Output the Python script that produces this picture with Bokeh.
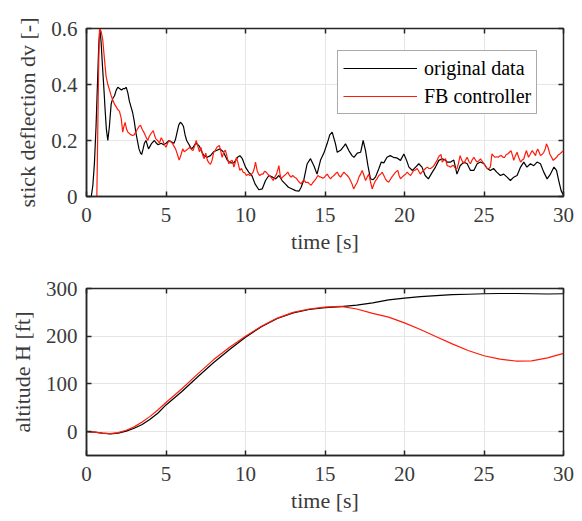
from bokeh.plotting import figure
from bokeh.models import Range1d, LinearAxis, FixedTicker, Legend, LegendItem, ColumnDataSource
from bokeh.layouts import column
from bokeh.embed import file_html
from bokeh.resources import INLINE

# ---------------- data: stick deflection ----------------
t_orig = [0, 0.3, 0.4, 0.5, 0.6, 0.7, 0.77, 0.84, 0.92, 1.0, 1.1, 1.17, 1.25, 1.34, 1.44, 1.55, 1.65, 1.76, 1.87, 1.97,
          2.1, 2.2, 2.3, 2.4, 2.5, 2.6, 2.7, 2.8, 2.9, 3.0, 3.1, 3.2, 3.3, 3.4, 3.47, 3.56, 3.64, 3.74, 3.82, 3.9,
          4.0, 4.1, 4.27, 4.4, 4.5, 4.7, 4.85, 5.0, 5.2, 5.35, 5.5, 5.6, 5.7, 5.8, 5.9, 6.0, 6.1, 6.2, 6.3, 6.4,
          6.5, 6.6, 6.7, 6.8, 6.9, 7.0, 7.1, 7.2, 7.38, 7.59, 7.8, 8.0, 8.2, 8.4, 8.6, 8.85, 9.06, 9.27, 9.5, 9.65,
          9.8, 10.0, 10.2, 10.4, 10.6, 10.84, 11.05, 11.26, 11.47, 11.68, 11.9, 12.1, 12.3, 12.5, 12.7, 12.94, 13.15, 13.36, 13.5, 13.67,
          13.88, 14.09, 14.3, 14.5, 14.72, 14.93, 15.14, 15.3, 15.45, 15.55, 15.66, 15.77, 15.98, 16.19, 16.29, 16.5, 16.7, 16.82, 17.03, 17.24,
          17.4, 17.55, 17.7, 17.86, 18.03, 18.18, 18.39, 18.54, 18.7, 18.9, 19.1, 19.3, 19.5, 19.75, 19.96, 20.13, 20.28, 20.5, 20.7, 20.9,
          21.1, 21.3, 21.5, 21.75, 21.95, 22.16, 22.37, 22.58, 22.68, 22.9, 23.1, 23.3, 23.5, 23.73, 23.94, 24.15, 24.36, 24.57, 24.78, 25.0,
          25.2, 25.4, 25.6, 25.8, 26.03, 26.24, 26.45, 26.66, 26.87, 27.08, 27.3, 27.5, 27.7, 27.92, 28.13, 28.34, 28.55, 28.76, 28.97, 29.18,
          29.4, 29.56, 29.7, 29.85, 30.0]
dv_orig = [0, 0.0, 0.04, 0.12, 0.25, 0.42, 0.54, 0.6, 0.55, 0.47, 0.38, 0.31, 0.24, 0.2, 0.25, 0.33, 0.35, 0.36, 0.38, 0.39,
           0.385, 0.38, 0.385, 0.385, 0.39, 0.37, 0.34, 0.32, 0.3, 0.27, 0.23, 0.2, 0.17, 0.155, 0.15, 0.17, 0.19, 0.2, 0.185, 0.17,
           0.18, 0.19, 0.2, 0.19, 0.185, 0.19, 0.185, 0.19, 0.2, 0.195, 0.19, 0.205, 0.23, 0.255, 0.265, 0.26, 0.25, 0.22, 0.2, 0.19,
           0.18, 0.17, 0.175, 0.185, 0.19, 0.185, 0.18, 0.165, 0.146, 0.14, 0.146, 0.16, 0.165, 0.17, 0.16, 0.13, 0.12, 0.12, 0.14, 0.146,
           0.135, 0.105, 0.087, 0.075, 0.045, 0.024, 0.027, 0.057, 0.075, 0.07, 0.063, 0.075, 0.057, 0.045, 0.033, 0.027, 0.021, 0.019, 0.033, 0.06,
           0.117, 0.135, 0.11, 0.08, 0.13, 0.155, 0.19, 0.22, 0.23, 0.21, 0.188, 0.158, 0.165, 0.18, 0.188, 0.164, 0.146, 0.14, 0.155, 0.158,
           0.2, 0.164, 0.11, 0.063, 0.06, 0.07, 0.1, 0.123, 0.12, 0.14, 0.146, 0.14, 0.138, 0.129, 0.152, 0.129, 0.105, 0.093, 0.105, 0.117,
           0.105, 0.075, 0.063, 0.087, 0.105, 0.129, 0.135, 0.13, 0.123, 0.123, 0.13, 0.08, 0.11, 0.123, 0.117, 0.093, 0.093, 0.117, 0.123, 0.117,
           0.1, 0.093, 0.1, 0.087, 0.075, 0.08, 0.069, 0.057, 0.069, 0.075, 0.105, 0.123, 0.105, 0.117, 0.11, 0.123, 0.117, 0.087, 0.063, 0.08,
           0.105, 0.093, 0.057, 0.021, 0.004]

t_fb = [0, 0.65, 0.7, 0.76, 0.82, 0.92, 1.02, 1.13, 1.23, 1.34, 1.45, 1.55, 1.65, 1.76, 1.87, 1.97, 2.07, 2.18, 2.28, 2.35,
        2.43, 2.52, 2.6, 2.7, 2.8, 2.9, 3.0, 3.1, 3.2, 3.3, 3.4, 3.5, 3.6, 3.72, 3.85, 3.95, 4.06, 4.2, 4.3, 4.37,
        4.48, 4.58, 4.7, 4.8, 4.9, 5.0, 5.1, 5.2, 5.3, 5.4, 5.5, 5.6, 5.72, 5.83, 5.95, 6.05, 6.15, 6.25, 6.38, 6.5,
        6.6, 6.7, 6.8, 6.9, 7.0, 7.1, 7.2, 7.3, 7.4, 7.5, 7.6, 7.7, 7.8, 7.9, 8.0, 8.1, 8.2, 8.36, 8.45, 8.53,
        8.64, 8.74, 8.85, 8.95, 9.05, 9.16, 9.27, 9.35, 9.43, 9.53, 9.64, 9.75, 9.85, 9.95, 10.06, 10.17, 10.27, 10.38, 10.48, 10.55,
        10.63, 10.73, 10.82, 10.9, 11.0, 11.1, 11.2, 11.3, 11.4, 11.5, 11.62, 11.74, 11.85, 11.95, 12.03, 12.1, 12.17, 12.24, 12.35, 12.45,
        12.55, 12.66, 12.77, 12.87, 12.97, 13.08, 13.2, 13.3, 13.4, 13.5, 13.6, 13.7, 13.8, 13.92, 14.02, 14.13, 14.24, 14.34, 14.45, 14.55,
        14.66, 14.76, 14.87, 14.97, 15.05, 15.14, 15.25, 15.35, 15.45, 15.56, 15.67, 15.77, 15.88, 15.98, 16.08, 16.19, 16.3, 16.4, 16.5, 16.6,
        16.7, 16.8, 16.92, 17.03, 17.14, 17.24, 17.34, 17.45, 17.55, 17.66, 17.76, 17.87, 17.97, 18.08, 18.18, 18.29, 18.39, 18.5, 18.6, 18.7,
        18.8, 18.9, 19.0, 19.1, 19.2, 19.32, 19.44, 19.58, 19.66, 19.75, 19.86, 19.96, 20.07, 20.17, 20.28, 20.38, 20.49, 20.59, 20.7, 20.8,
        20.9, 21.0, 21.1, 21.2, 21.32, 21.43, 21.54, 21.64, 21.75, 21.85, 21.95, 22.05, 22.13, 22.2, 22.3, 22.37, 22.47, 22.58, 22.68, 22.8,
        22.9, 23.0, 23.1, 23.2, 23.3, 23.4, 23.5, 23.6, 23.73, 23.84, 23.94, 24.05, 24.15, 24.25, 24.36, 24.47, 24.57, 24.68, 24.78, 24.9,
        25.0, 25.1, 25.2, 25.3, 25.4, 25.5, 25.6, 25.7, 25.8, 25.9, 26.0, 26.1, 26.2, 26.3, 26.4, 26.5, 26.6, 26.7, 26.8, 26.87,
        26.97, 27.08, 27.18, 27.3, 27.4, 27.5, 27.58, 27.67, 27.8, 27.9, 28.03, 28.14, 28.24, 28.3, 28.38, 28.47, 28.55, 28.65, 28.76, 28.85,
        28.93, 29.03, 29.14, 29.25, 29.35, 29.46, 29.56, 29.66, 29.77, 29.88, 30.0]
dv_fb = [0, 0, 0.2, 0.45, 0.6, 0.59, 0.56, 0.49, 0.43, 0.4, 0.38, 0.36, 0.345, 0.33, 0.32, 0.31, 0.305, 0.28, 0.23, 0.25,
         0.265, 0.24, 0.23, 0.225, 0.22, 0.218, 0.22, 0.23, 0.24, 0.25, 0.255, 0.24, 0.23, 0.215, 0.2, 0.215, 0.225, 0.235, 0.215, 0.205,
         0.2, 0.19, 0.21, 0.2, 0.185, 0.176, 0.19, 0.2, 0.195, 0.19, 0.18, 0.17, 0.15, 0.13, 0.15, 0.17, 0.16, 0.164, 0.17, 0.176,
         0.168, 0.164, 0.18, 0.2, 0.18, 0.16, 0.175, 0.15, 0.135, 0.155, 0.13, 0.12, 0.115, 0.13, 0.158, 0.165, 0.176, 0.182, 0.16, 0.14,
         0.16, 0.165, 0.14, 0.117, 0.125, 0.13, 0.105, 0.12, 0.14, 0.12, 0.093, 0.1, 0.087, 0.085, 0.075, 0.08, 0.075, 0.08, 0.087, 0.1,
         0.123, 0.093, 0.08, 0.075, 0.08, 0.08, 0.09, 0.087, 0.08, 0.075, 0.068, 0.057, 0.07, 0.08, 0.095, 0.11, 0.08, 0.063, 0.07, 0.075,
         0.08, 0.087, 0.075, 0.069, 0.075, 0.069, 0.065, 0.057, 0.05, 0.045, 0.055, 0.057, 0.05, 0.051, 0.045, 0.04, 0.05, 0.057, 0.065, 0.075,
         0.07, 0.069, 0.065, 0.069, 0.075, 0.08, 0.07, 0.063, 0.07, 0.075, 0.082, 0.087, 0.075, 0.069, 0.078, 0.087, 0.08, 0.075, 0.068, 0.057,
         0.045, 0.027, 0.04, 0.051, 0.07, 0.08, 0.093, 0.075, 0.057, 0.07, 0.08, 0.05, 0.027, 0.045, 0.057, 0.065, 0.075, 0.08, 0.087, 0.075,
         0.063, 0.055, 0.051, 0.06, 0.069, 0.078, 0.087, 0.093, 0.075, 0.063, 0.07, 0.075, 0.08, 0.087, 0.08, 0.075, 0.085, 0.093, 0.095, 0.1,
         0.09, 0.08, 0.088, 0.093, 0.1, 0.105, 0.1, 0.1, 0.105, 0.11, 0.12, 0.129, 0.14, 0.146, 0.15, 0.123, 0.129, 0.135, 0.11, 0.108,
         0.105, 0.11, 0.11, 0.1, 0.099, 0.12, 0.146, 0.13, 0.117, 0.13, 0.14, 0.125, 0.117, 0.13, 0.14, 0.13, 0.123, 0.128, 0.134, 0.125,
         0.117, 0.108, 0.1, 0.1, 0.105, 0.152, 0.145, 0.14, 0.142, 0.14, 0.145, 0.146, 0.14, 0.14, 0.15, 0.152, 0.158, 0.164, 0.145, 0.129,
         0.145, 0.158, 0.14, 0.123, 0.13, 0.134, 0.15, 0.164, 0.14, 0.15, 0.164, 0.155, 0.146, 0.16, 0.17, 0.158, 0.146, 0.15, 0.158, 0.17,
         0.188, 0.175, 0.152, 0.14, 0.129, 0.135, 0.14, 0.148, 0.152, 0.158, 0.164]

# ---------------- data: altitude ----------------
t_alt = [0, 0.5, 1, 1.5, 2, 2.5, 3, 3.5, 4, 4.5, 5, 6, 7, 8, 9, 10, 11, 12, 13, 14, 15, 16, 17, 18, 19, 20,
         21, 22, 23, 24, 25, 26, 27, 28, 29, 30]
H_orig = [0, -1, -3, -4.5, -3, 1, 7, 15, 26, 39, 56, 84, 115, 145, 172, 198, 220, 237, 249, 256, 260, 262, 265, 270,
          276, 280, 283, 285, 287, 288, 289, 289.5, 289.5, 289, 288.5, 289]
H_fb = [0, -1, -3, -4, -2, 3, 10, 20, 32, 46, 61, 90, 121, 151, 177, 200, 221, 238, 250, 257, 261, 262.5, 257, 248,
        240, 228, 214, 199, 184, 170, 159, 152, 148, 148.5, 154.5, 164]

x_ticks = [0, 5, 10, 15, 20, 25, 30]
dv_ticks = [0, 0.2, 0.4, 0.6]
H_ticks = [0, 100, 200, 300]

FONT = "'Liberation Serif', 'Times New Roman', serif"
AX = "#262626"
TXT = "#3a3a3a"
GRID = "#e6e6e6"
RED = "#ff1a0a"


def style(p, yticks, ylabel):
    p.xaxis.ticker = FixedTicker(ticks=x_ticks)
    p.yaxis.ticker = FixedTicker(ticks=yticks)
    p.xgrid.ticker = FixedTicker(ticks=x_ticks)
    p.ygrid.ticker = FixedTicker(ticks=yticks)
    p.grid.grid_line_color = GRID
    p.grid.grid_line_width = 1
    p.outline_line_color = AX
    p.outline_line_width = 1.5
    p.outline_line_alpha = 1
    for ax in (p.xaxis[0], p.yaxis[0]):
        ax.major_tick_in = 5
        ax.major_tick_out = 0
        ax.minor_tick_line_color = None
        ax.axis_line_color = AX
        ax.axis_line_width = 1.5
        ax.major_tick_line_color = AX
        ax.major_tick_line_width = 1.5
        ax.major_label_text_font = FONT
        ax.major_label_text_font_size = "21px"
        ax.major_label_text_color = TXT
        ax.axis_label_text_font = FONT
        ax.axis_label_text_font_size = "22px"
        ax.axis_label_text_font_style = "normal"
        ax.axis_label_text_color = TXT
    p.xaxis.axis_label = "time [s]"
    p.yaxis.axis_label = ylabel
    p.xaxis.major_label_standoff = 11
    p.xaxis.axis_label_standoff = 4
    p.yaxis.major_label_standoff = 9
    p.yaxis.axis_label_standoff = 8
    # mirrored inward ticks on top and right (box on)
    top = LinearAxis(ticker=FixedTicker(ticks=x_ticks), major_tick_in=5, major_tick_out=0,
                     minor_tick_line_color=None, axis_line_color=None, major_tick_line_color=AX,
                     major_tick_line_width=1.5, major_label_text_font_size="0px", major_label_standoff=0,
                     major_label_overrides={v: "" for v in x_ticks})
    right = LinearAxis(ticker=FixedTicker(ticks=yticks), major_tick_in=5, major_tick_out=0,
                       minor_tick_line_color=None, axis_line_color=None, major_tick_line_color=AX,
                       major_tick_line_width=1.5, major_label_text_font_size="0px", major_label_standoff=0,
                       major_label_overrides={v: "" for v in yticks})
    p.add_layout(top, "above")
    p.add_layout(right, "right")


p1 = figure(width=580, height=260, x_range=Range1d(0, 30), y_range=Range1d(0, 0.6),
            output_backend="svg", toolbar_location=None,
            min_border_left=86, min_border_right=17, min_border_top=28, min_border_bottom=64)
style(p1, dv_ticks, "stick deflection dv [-]")
src_o = ColumnDataSource(dict(t=t_orig, v=dv_orig))
src_f = ColumnDataSource(dict(t=t_fb, v=dv_fb))
r_o = p1.line("t", "v", source=src_o, line_color="black", line_width=1.2)
r_f = p1.line("t", "v", source=src_f, line_color=RED, line_width=1.2)
leg = Legend(items=[LegendItem(label="original data", renderers=[r_o]),
                    LegendItem(label="FB controller", renderers=[r_f])],
             location=(251, 82), orientation="vertical",
             glyph_width=74, glyph_height=24, label_height=24, label_standoff=7,
             spacing=4, padding=5, margin=0,
             label_text_font=FONT, label_text_font_size="20px", label_text_color="black",
             border_line_color="#555555", border_line_width=1.2, background_fill_alpha=1)
p1.add_layout(leg, "center")

p2 = figure(width=580, height=259, x_range=Range1d(0, 30), y_range=Range1d(-50, 300),
            output_backend="svg", toolbar_location=None,
            min_border_left=86, min_border_right=17, min_border_top=28, min_border_bottom=64)
style(p2, H_ticks, "altitude H [ft]")
src_ho = ColumnDataSource(dict(t=t_alt, h=H_orig))
src_hf = ColumnDataSource(dict(t=t_alt, h=H_fb))
p2.line("t", "h", source=src_ho, line_color="black", line_width=1.2)
p2.line("t", "h", source=src_hf, line_color=RED, line_width=1.2)

layout = column(p1, p2, spacing=0)
open("out.html", "w").write(file_html(layout, INLINE))
